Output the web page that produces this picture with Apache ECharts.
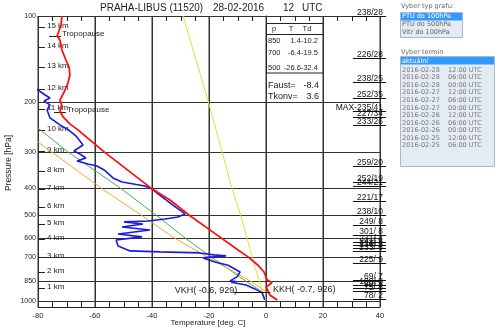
<!DOCTYPE html>
<html>
<head>
<meta charset="utf-8">
<title>PRAHA-LIBUS sounding</title>
<script src="https://cdn.jsdelivr.net/npm/echarts@6/dist/echarts.min.js"></script>
<style>
html,body{margin:0;padding:0;background:#fff;}
#chart{width:500px;height:333px;}
</style>
</head>
<body>
<div id="chart"></div>
<script>
// ---------------- data ----------------
const pressureLevels = [100, 200, 300, 400, 500, 600, 700, 850, 1000];
const pressureRange = [100, 1050];
const tempAxisTicks = [-80, -60, -40, -20, 0, 20, 40];

// temperature profile (red)
const tempP = [100, 107.5, 117.5, 121.4, 131.6, 142.7, 151, 161.3, 171.9, 181.8, 197.3, 206.9, 215.5, 226.1, 239.1, 251, 299.7, 404.3, 442, 502, 563, 662.5, 700.3, 749, 791.5, 842.8, 863.8, 892.5, 954.5, 991.5];
const tempT = [-71.6, -71.9, -73.3, -72.3, -71.6, -70.2, -69.1, -68.8, -69.5, -70.5, -72.3, -71.6, -72.3, -71.2, -68.8, -66.0, -56.8, -40.0, -33.7, -26.7, -19.7, -9.8, -6.3, -2.8, -0.7, 0.4, 2.1, 0.0, 1.4, 3.9];

// dew point profile (blue)
const dewP = [176, 181.8, 189.3, 194, 198.7, 205.2, 213.7, 227.9, 241.2, 249.1, 263.6, 283.5, 297.6, 304.9, 314.9, 322.6, 330.5, 335.9, 346.9, 370.1, 382.3, 394.8, 404.5, 421.1, 442, 464, 495, 507.1, 515.4, 523.8, 528, 536.6, 549.8, 563.3, 581.8, 596, 610.7, 641, 667.4, 672.8, 678.3, 689.3, 694.9, 706.2, 729.4, 749, 791.5, 823.3, 850, 855, 860, 878.4, 907.3, 937.1, 991.5];
const dewT = [-84, -80, -77.5, -75.8, -77.9, -75.8, -76.8, -75.8, -72.3, -69.8, -66.7, -64.2, -67.4, -65.3, -63.2, -66.3, -62.5, -59.3, -56.8, -53.7, -50.5, -42.5, -40.0, -37.9, -35.1, -32.3, -28.4, -30.9, -35.4, -41.4, -49.8, -43.2, -50.5, -40.7, -51.9, -43.5, -52.6, -51.9, -47.7, -37.2, -23.2, -18.3, -14.0, -22.1, -17.9, -13.3, -9.1, -10.2, -12.6, -10.5, -12.2, -7.0, -3.9, -1.4, -0.4];

// yellow guide line
const yellowP = [100, 197.3, 300, 404, 502, 700, 937, 991.5];
const yellowT = [-29.1, -20.4, -15.4, -11.9, -8.8, -4.9, -1.1, 0.0];

// green guide line
const greenP = [247.1, 300, 401, 502, 601, 700, 857, 937];
const greenT = [-80, -69.5, -51.2, -38.3, -28.4, -19.3, -6.7, -0.7];

// orange guide line
const orangeP = [276.7, 404, 502, 600, 700, 858, 991];
const orangeT = [-80, -57.5, -43.5, -32.3, -20.7, -4.9, 4.2];

// height marks
const kmLabels = ['15 km', '14 km', '13 km', '12 km', '11 km', '10 km', '9 km', '8 km', '7 km', '6 km', '5 km', '4 km', '3 km', '2 km', '1 km'];
const kmP = [108.9, 128.5, 151.6, 181.1, 212.8, 252.2, 298.8, 349.7, 404.5, 467.8, 538.8, 608.2, 700, 794, 900];

// tropopause marks
const tropoP = [118, 217];
const tropoT = [-73.3, -71.6];

// wind (direction / speed) labels
const windP = [100, 140.4, 170.4, 193.5, 215.4, 226, 241.2, 335.9, 382.3, 394.8, 445.6, 499, 541, 586.5, 620.6, 635.8, 651.4, 667.4, 735.4, 843.5, 878.4, 900, 922, 983.4];
const windText = ['238/28', '226/28', '238/25', '252/35', 'MAX-235/41', '227/34', '233/26', '259/20', '252/19', '244/21', '221/17', '238/10', '249/ 8', '301/ 8', '231/ 4', '241/ 5', '236/ 5', '233/ 6', '225/ 9', '69/ 7', '100/ 8', '90/ 8', '75/ 8', '78/ 2'];

// condensation levels
const lclText = ['VKH( -0.6, 929)', 'KKH( -0.7, 926)'];
const lclT = [-0.6, -0.7];
const lclP = [929, 926];

// table
const tableHead = ['p', 'T', 'Td'];
const tableP = ['850', '700', '500'];
const tableT = ['1.4', '-6.4', '-26.6'];
const tableTd = ['-10.2', '-19.5', '-32.4'];
const faustVal = '-8.4';
const tkonvVal = '3.6';

// side panel
const chartTypes = ['PTU do 100hPa', 'PTU do 500hPa', 'Vitr do 100hPa'];
const termDates = ['2016-02-28', '2016-02-28', '2016-02-28', '2016-02-27', '2016-02-27', '2016-02-27', '2016-02-26', '2016-02-26', '2016-02-26', '2016-02-25', '2016-02-25'];
const termTimes = ['12:00 UTC', '06:00 UTC', '00:00 UTC', '12:00 UTC', '06:00 UTC', '00:00 UTC', '12:00 UTC', '06:00 UTC', '00:00 UTC', '12:00 UTC', '06:00 UTC'];

// ---------------- chart ----------------
const F = "'Liberation Sans', Arial, sans-serif";
const FP = "'DejaVu Sans', Verdana, sans-serif";
const zip = (ts, ps) => ts.map((t, i) => [t, ps[i]]);
const chart = echarts.init(document.getElementById('chart'), null, {renderer: 'canvas'});

const xMin = tempAxisTicks[0], xMax = tempAxisTicks[tempAxisTicks.length - 1];
const minorStep = 5;
const minorTicks = [];
for (let v = xMin; v <= xMax; v += minorStep) minorTicks.push(v);

function lineSeries(name, t, p, color, width, z) {
  return {
    name, type: 'line', data: zip(t, p), showSymbol: false, symbol: 'none',
    lineStyle: {color, width}, z, silent: true, animation: false
  };
}

// vertical grid lines as plain line series (each one a two-point line through the axes)
const gridLineSeries = tempAxisTicks.map(t => ({
  type: 'line', data: [[t, pressureRange[0]], [t + 0.01, pressureRange[1]]],
  showSymbol: false, symbol: 'none', clip: false, silent: true, animation: false, z: 1,
  lineStyle: {color: '#333', width: 1}
}));

const graphic = [];
graphic.push({type: 'text', x: 100, y: 8, style: {text: 'PRAHA-LIBUS (11520)', fill: '#222', font: '10px ' + F, verticalAlign: 'middle'}});
graphic.push({type: 'text', x: 213, y: 8, style: {text: '28-02-2016', fill: '#222', font: '10px ' + F, verticalAlign: 'middle'}});
graphic.push({type: 'text', x: 283, y: 8, style: {text: '12', fill: '#222', font: '10px ' + F, verticalAlign: 'middle'}});
graphic.push({type: 'text', x: 302, y: 8, style: {text: 'UTC', fill: '#222', font: '10px ' + F, verticalAlign: 'middle'}});
graphic.push({type: 'text', x: 208, y: 323, style: {text: 'Temperature [deg. C]', fill: '#222', font: '8px ' + F, align: 'center', verticalAlign: 'middle'}});
graphic.push({type: 'text', x: 9, y: 163, rotation: Math.PI / 2, style: {text: 'Pressure [hPa]', fill: '#222', font: '8.5px ' + F, align: 'center', verticalAlign: 'middle'}});
graphic.push({type: 'rect', shape: {x: 266.5, y: 23.5, width: 56.5, height: 49.5}, style: {fill: '#fff', stroke: '#222', lineWidth: 1}, z: 50});
graphic.push({type: 'line', shape: {x1: 266.5, y1: 34.5, x2: 323, y2: 34.5}, style: {stroke: '#222', lineWidth: 1}, z: 51});
graphic.push({type: 'text', x: 274, y: 29, z: 52, style: {text: tableHead[0], fill: '#222', font: '7.5px ' + F, align: 'center', verticalAlign: 'middle'}});
graphic.push({type: 'text', x: 291, y: 29, z: 52, style: {text: tableHead[1], fill: '#222', font: '7.5px ' + F, align: 'center', verticalAlign: 'middle'}});
graphic.push({type: 'text', x: 307, y: 29, z: 52, style: {text: tableHead[2], fill: '#222', font: '7.5px ' + F, align: 'center', verticalAlign: 'middle'}});
const rowY = [41, 53, 68];
tableP.forEach((p, i) => {
  graphic.push({type: 'text', x: 268, y: rowY[i], z: 52, style: {text: p, fill: '#222', font: '7.5px ' + F, verticalAlign: 'middle'}});
  graphic.push({type: 'text', x: 318, y: rowY[i], z: 52, style: {text: tableT[i] + tableTd[i], fill: '#222', font: '7.5px ' + F, align: 'right', verticalAlign: 'middle'}});
});
graphic.push({type: 'text', x: 268, y: 86, style: {text: 'Faust=', fill: '#222', font: '9px ' + F, verticalAlign: 'middle'}});
graphic.push({type: 'text', x: 319, y: 86, style: {text: faustVal, fill: '#222', font: '9px ' + F, align: 'right', verticalAlign: 'middle'}});
graphic.push({type: 'text', x: 268, y: 97, style: {text: 'Tkonv=', fill: '#222', font: '9px ' + F, verticalAlign: 'middle'}});
graphic.push({type: 'text', x: 319, y: 97, style: {text: tkonvVal, fill: '#222', font: '9px ' + F, align: 'right', verticalAlign: 'middle'}});
graphic.push({type: 'text', x: 401, y: 6, style: {text: 'Vyber typ grafu:', fill: '#666', font: '6.5px ' + FP, verticalAlign: 'middle'}});
graphic.push({type: 'rect', shape: {x: 400.5, y: 12.5, width: 62, height: 25}, style: {fill: '#e4ebf2', stroke: '#a9b8c6', lineWidth: 1}});
graphic.push({type: 'rect', shape: {x: 401, y: 13, width: 61, height: 7.5}, style: {fill: '#3399ff'}});
chartTypes.forEach((t, i) => {
  graphic.push({type: 'text', x: 402, y: 16.8 + i * 7.8, style: {text: t, fill: i === 0 ? '#fff' : '#666', font: '6.5px ' + FP, verticalAlign: 'middle'}});
});
graphic.push({type: 'text', x: 401, y: 52, style: {text: 'Vyber termin', fill: '#666', font: '6.5px ' + FP, verticalAlign: 'middle'}});
graphic.push({type: 'rect', shape: {x: 400.5, y: 56.5, width: 94, height: 110}, style: {fill: '#e4ebf2', stroke: '#a9b8c6', lineWidth: 1}});
graphic.push({type: 'rect', shape: {x: 401, y: 57, width: 93, height: 7.5}, style: {fill: '#3399ff'}});
graphic.push({type: 'text', x: 402, y: 61, style: {text: 'aktuální', fill: '#fff', font: '6.5px ' + FP, verticalAlign: 'middle'}});
termDates.forEach((d, i) => {
  const y = 70 + i * 7.57;
  graphic.push({type: 'text', x: 402, y, style: {text: d, fill: '#777', font: '6.5px ' + FP, verticalAlign: 'middle'}});
  graphic.push({type: 'text', x: 448, y, style: {text: termTimes[i], fill: '#777', font: '6.5px ' + FP, verticalAlign: 'middle'}});
});

const option = {
  animation: false,
  backgroundColor: '#fff',
  grid: {left: 38, right: 120, top: 16, bottom: 26},
  xAxis: [{
    type: 'value', min: xMin, max: xMax, interval: 20, position: 'bottom',
    axisLine: {show: true, onZero: false, lineStyle: {color: '#222', width: 1}},
    axisTick: {show: false},
    axisLabel: {color: '#222', fontSize: 7.5, fontFamily: F, margin: 5},
    splitLine: {show: false}
  }, {
    type: 'value', min: xMin, max: xMax, interval: 20, position: 'top',
    axisLine: {show: true, onZero: false, lineStyle: {color: '#222', width: 1}},
    axisTick: {show: false},
    axisLabel: {show: false},
    splitLine: {show: false}
  }],
  yAxis: {
    type: 'log', logBase: 10, min: pressureRange[0], max: pressureRange[1], inverse: true,
    axisLine: {show: true, lineStyle: {color: '#222', width: 1}},
    axisTick: {show: false}, axisLabel: {show: false}, splitLine: {show: false}, minorTick: {show: false}
  },
  graphic,
  series: [
    ...gridLineSeries,
    // pressure grid lines + labels; first item also draws the inside ticks every 5 degrees
    {
      type: 'custom', clip: false, silent: true, z: 1,
      data: pressureLevels.map(p => [xMin, p]),
      encode: {x: 0, y: 1},
      renderItem: (params, api) => {
        const p = api.value(1);
        const a = api.coord([xMin, p]);
        const b = api.coord([xMax, p]);
        const y = Math.round(a[1]);
        const children = [
          {type: 'rect', shape: {x: a[0], y: y, width: b[0] - a[0], height: 1}, style: {fill: '#333'}},
          {type: 'text', x: a[0] - 2, y: y + 0.5, style: {text: String(p), fill: '#222', font: '7px ' + F, align: 'right', verticalAlign: 'middle'}}
        ];
        if (params.dataIndex === 0) {
          minorTicks.forEach(t => {
            const top = api.coord([t, pressureRange[0]]);
            const bot = api.coord([t, pressureRange[1]]);
            const x = Math.round(top[0]);
            children.push({type: 'rect', shape: {x: x, y: Math.round(top[1]), width: 1, height: 5}, style: {fill: '#222'}});
            children.push({type: 'rect', shape: {x: x, y: Math.round(bot[1]) - 5, width: 1, height: 5}, style: {fill: '#222'}});
          });
          tempAxisTicks.forEach(t => {
            const top = api.coord([t, pressureRange[0]]);
            const bot = api.coord([t, pressureRange[1]]);
            const x = Math.round(top[0]);
            children.push({type: 'rect', shape: {x: x, y: Math.round(top[1]), width: 1, height: Math.round(bot[1]) - Math.round(top[1])}, style: {fill: '#333'}});
          });
        }
        return {type: 'group', children};
      }
    },
    // km marks
    {
      type: 'custom', clip: false, silent: true, z: 5,
      data: kmP.map(p => [xMin, p]),
      encode: {x: 0, y: 1},
      renderItem: (params, api) => {
        const pt = api.coord([xMin, api.value(1)]);
        const y = Math.round(pt[1]) + 0.5;
        return {type: 'group', children: [
          {type: 'line', shape: {x1: pt[0], y1: y, x2: pt[0] + 7, y2: y}, style: {stroke: '#222', lineWidth: 1}},
          {type: 'text', x: pt[0] + 9, y: y + 2, style: {text: kmLabels[params.dataIndex], fill: '#222', font: '8px ' + F, verticalAlign: 'bottom'}}
        ]};
      }
    },
    // tropopause marks
    {
      type: 'custom', clip: false, silent: true, z: 6,
      data: zip(tropoT, tropoP),
      encode: {x: 0, y: 1},
      renderItem: (params, api) => {
        const pt = api.coord([api.value(0), api.value(1)]);
        const y = Math.round(pt[1]) + 0.5;
        return {type: 'group', children: [
          {type: 'line', shape: {x1: pt[0] - 8, y1: y, x2: pt[0] + 4, y2: y}, style: {stroke: '#222', lineWidth: 1}},
          {type: 'text', x: pt[0] + 5, y: y + 1.5, style: {text: 'Tropopause', fill: '#222', font: '8px ' + F, verticalAlign: 'bottom'}}
        ]};
      }
    },
    // wind labels
    {
      type: 'custom', clip: false, silent: true, z: 6,
      data: windP.map(p => [xMax, p]),
      encode: {x: 0, y: 1},
      renderItem: (params, api) => {
        const pt = api.coord([xMax, api.value(1)]);
        const x0 = api.coord([30.5, api.value(1)])[0];
        const y = Math.round(pt[1]) + 0.5;
        return {type: 'group', children: [
          {type: 'line', shape: {x1: x0, y1: y, x2: pt[0] + 6, y2: y}, style: {stroke: '#111', lineWidth: 1}},
          {type: 'text', x: pt[0] + 3, y: y + 0.5, style: {text: windText[params.dataIndex], fill: '#111', font: '8.5px ' + F, align: 'right', verticalAlign: 'bottom'}}
        ]};
      }
    },
    lineSeries('yellow', yellowT, yellowP, '#e4de3a', 1, 10),
    lineSeries('green', greenT, greenP, '#4caf4c', 1, 10),
    lineSeries('orange', orangeT, orangeP, '#f0a830', 1, 10),
    lineSeries('dewpoint', dewT, dewP, '#1a1ae0', 1.6, 12),
    lineSeries('temperature', tempT, tempP, '#ff1010', 1.8, 13),
    // condensation levels
    {
      type: 'custom', clip: false, silent: true, z: 14,
      data: zip(lclT, lclP),
      encode: {x: 0, y: 1},
      renderItem: (params, api) => {
        const pt = api.coord([api.value(0), api.value(1)]);
        const y = Math.round(pt[1]) + 0.5;
        const children = [];
        if (params.dataIndex === 0) {
          children.push({type: 'line', shape: {x1: pt[0] - 31, y1: y, x2: pt[0] + 6, y2: y}, style: {stroke: '#111', lineWidth: 1}});
          children.push({type: 'text', x: pt[0] - 27, y: y - 1.5, style: {text: lclText[0], fill: '#222', font: '9px ' + F, align: 'right', verticalAlign: 'middle'}});
        } else {
          children.push({type: 'text', x: pt[0] + 9, y: y - 1.5, style: {text: lclText[1], fill: '#222', font: '9px ' + F, align: 'left', verticalAlign: 'middle'}});
        }
        return {type: 'group', children};
      }
    }
  ]
};
chart.setOption(option);
</script>
</body>
</html>
